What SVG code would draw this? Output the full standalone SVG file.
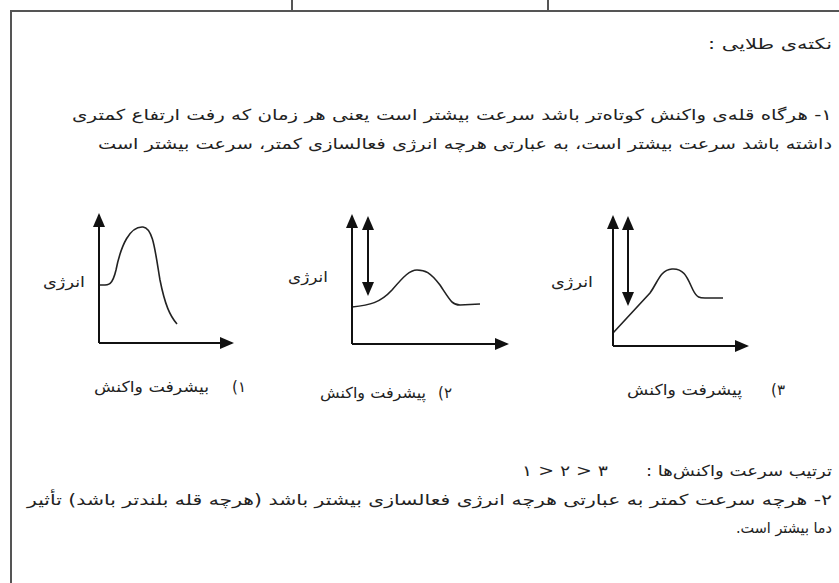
<svg xmlns="http://www.w3.org/2000/svg" width="839" height="583" viewBox="0 0 839 583">
<style>
.t{font-family:"DejaVu Sans",sans-serif;font-size:15px;fill:#222;direction:rtl;unicode-bidi:embed}
.n{font-family:"DejaVu Sans",sans-serif;font-size:15px;fill:#222}
.ax{stroke:#111;stroke-width:2;fill:none}
.cv{stroke:#222;stroke-width:1.6;fill:none}
.fr{stroke:#555;stroke-width:2;fill:none}
</style>
<defs>
<marker id="ah" markerUnits="userSpaceOnUse" markerWidth="14" markerHeight="12" refX="12" refY="6" orient="auto-start-reverse" viewBox="0 0 14 12">
<path d="M0,0 L14,6 L0,12 Z" fill="#111"/>
</marker>
</defs>
<rect width="839" height="583" fill="#fff"/>
<g id="frame">
<path class="fr" d="M11,583 L11,11 L839,11"/>
<path class="fr" d="M292,0 L292,11 L548,11 L548,0"/>
</g>
<g id="heading"><text class="t" x="832" y="49" textLength="124" lengthAdjust="spacingAndGlyphs">نکته‌ی طلایی :</text></g>
<g id="para1">
<text class="t" x="832" y="120" textLength="760" lengthAdjust="spacingAndGlyphs">۱- هرگاه قله‌ی واکنش کوتاه‌تر باشد سرعت بیشتر است یعنی هر زمان که رفت ارتفاع کمتری</text>
<text class="t" x="832" y="149" textLength="734" lengthAdjust="spacingAndGlyphs">داشته باشد سرعت بیشتر است، به عبارتی هرچه انرژی فعالسازی کمتر، سرعت بیشتر است</text>
</g>
<g id="graph1">
<text class="t" x="85" y="287" textLength="42" lengthAdjust="spacingAndGlyphs">انرژی</text>
<path class="cv" d="M99,285 C108,285 112,287 116,270 C121,245 130,226 143,227 C153,228 155,250 160,280 C165,305 170,316 177,324"/>
<text class="t" x="209" y="392" textLength="115" lengthAdjust="spacingAndGlyphs">بیشرفت واکنش</text>
<text class="t" x="246" y="392">۱)</text>
</g>
<g id="graph2">
<text class="t" x="426" y="398" textLength="106" lengthAdjust="spacingAndGlyphs">پیشرفت واکنش</text>
<text class="t" x="328" y="282" textLength="40" lengthAdjust="spacingAndGlyphs">انرژی</text>
<path class="cv" d="M352,307 C370,305 380,303 392,290 C404,276 410,270 417,270 C425,270 430,272 440,285 C450,300 452,305 460,305 L480,304"/>
<text class="t" x="452" y="398">۲)</text>
</g>
<g id="graph3">
<text class="t" x="593" y="287" textLength="42" lengthAdjust="spacingAndGlyphs">انرژی</text>
<path class="cv" d="M613,333 L650,293 C658,282 660,270 672,269 C685,268 688,280 693,290 C697,298 700,298 705,298 L723,298"/>
<text class="t" x="742" y="395" textLength="115" lengthAdjust="spacingAndGlyphs">پیشرفت واکنش</text>
<text class="t" x="785" y="395">۳)</text>
</g>
<g id="connectors">
<path class="ax" d="M99,343 L99,215" marker-end="url(#ah)"/>
<path class="ax" d="M99,343 L232,343" marker-end="url(#ah)"/>
<path class="ax" d="M352,344 L352,216" marker-end="url(#ah)"/>
<path class="ax" d="M352,344 L507,344" marker-end="url(#ah)"/>
<path class="ax" d="M368,218 L368,294" marker-start="url(#ah)" marker-end="url(#ah)"/>
<path class="ax" d="M613,346 L613,217" marker-end="url(#ah)"/>
<path class="ax" d="M613,346 L747,346" marker-end="url(#ah)"/>
<path class="ax" d="M628,218 L628,304" marker-start="url(#ah)" marker-end="url(#ah)"/>
</g>
<g id="para2">
<text class="t" x="832" y="476" textLength="186" lengthAdjust="spacingAndGlyphs">ترتیب سرعت واکنش‌ها :</text>
<text class="n" x="522" y="476" textLength="86" lengthAdjust="spacingAndGlyphs">۱ &gt; ۲ &gt; ۳</text>
<text class="t" x="832" y="505" textLength="805" lengthAdjust="spacingAndGlyphs">۲- هرچه سرعت کمتر به عبارتی هرچه انرژی فعالسازی بیشتر باشد (هرچه قله بلندتر باشد) تأثیر</text>
<text class="t" x="832" y="533" textLength="96" lengthAdjust="spacingAndGlyphs">دما بیشتر است.</text>
</g>
</svg>
